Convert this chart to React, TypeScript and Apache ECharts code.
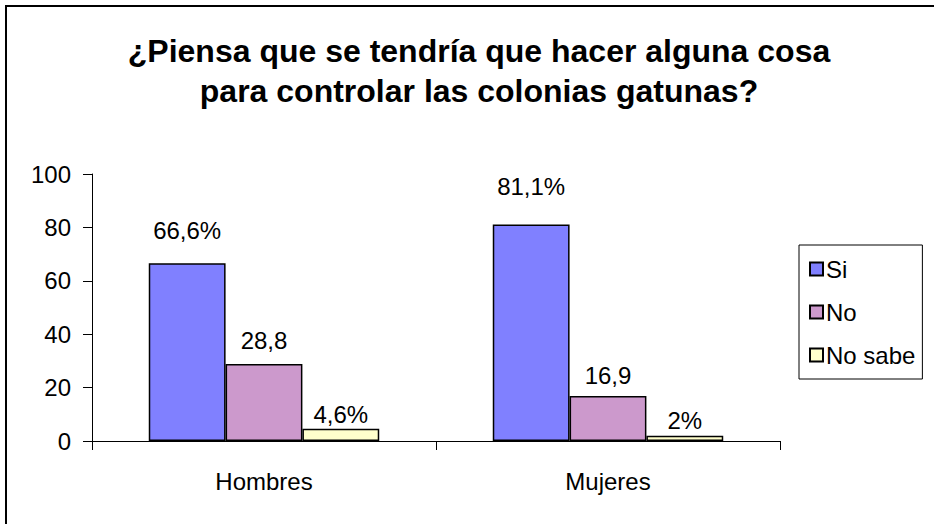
import React, { useEffect, useRef } from "react";
import * as echarts from "echarts";

const categories = ["Hombres", "Mujeres"];
const seriesNames = ["Si", "No", "No sabe"];
const siValues = [66.6, 81.1];
const noValues = [28.8, 16.9];
const noSabeValues = [4.6, 2];
const siLabels = ["66,6%", "81,1%"];
const noLabels = ["28,8", "16,9"];
const noSabeLabels = ["4,6%", "2%"];
const yTicks = [0, 20, 40, 60, 80, 100];
const titleLines = ["¿Piensa que se tendría que hacer alguna cosa", "para controlar las colonias gatunas?"];

const FONT = "'Liberation Sans', Arial, sans-serif";

export default function App() {
  const ref = useRef<HTMLDivElement>(null);
  useEffect(() => {
    if (!ref.current) return;
    const chart = echarts.init(ref.current, undefined, { renderer: "svg" });
    const colors = ["#8080FF", "#CC99CC", "#FFFFCC"];
    const labelDist = [
      [21, 26],
      [12, 8],
      [2, 3],
    ];
    const values = [siValues, noValues, noSabeValues];
    const labels = [siLabels, noLabels, noSabeLabels];
    chart.setOption({
      animation: false,
      backgroundColor: "#ffffff",
      textStyle: { fontFamily: FONT },
      title: {
        text: titleLines.join("\n"),
        left: 474,
        top: 26,
        textAlign: "center",
        textStyle: {
          fontFamily: FONT,
          fontSize: 32,
          fontWeight: "bold",
          color: "#000",
          lineHeight: 40,
        },
      },
      graphic: [
        {
          type: "polyline",
          shape: { points: [[6, 700], [6, 6], [1200, 6]] },
          style: { fill: "none", stroke: "#000", lineWidth: 2 },
          silent: true,
          z: 100,
        },
      ],
      legend: {
        orient: "vertical",
        left: 799,
        top: 245,
        padding: [12, 7, 12, 10],
        itemGap: 19,
        itemWidth: 13,
        itemHeight: 13,
        icon: "rect",
        borderColor: "#000",
        borderWidth: 1,
        textStyle: { fontFamily: FONT, fontSize: 24, color: "#000", padding: [0, 0, 0, -2] },
        data: seriesNames,
      },
      grid: { left: 92, right: 154, top: 174, bottom: 83, containLabel: false },
      xAxis: {
        type: "category",
        data: categories,
        axisLine: { lineStyle: { color: "#000", width: 1 } },
        axisTick: { show: true, length: 9, lineStyle: { color: "#000" } },
        axisLabel: { fontFamily: FONT, fontSize: 24, color: "#000", margin: 28 },
      },
      yAxis: {
        type: "value",
        min: yTicks[0],
        max: yTicks[yTicks.length - 1],
        interval: 20,
        splitLine: { show: false },
        axisLine: { show: true, lineStyle: { color: "#000", width: 1 } },
        axisTick: { show: true, length: 9, lineStyle: { color: "#000" } },
        axisLabel: { fontFamily: FONT, fontSize: 24, color: "#000", margin: 21 },
      },
      series: seriesNames.map((name, si) => ({
        name,
        type: "bar",
        barGap: "0%",
        barCategoryGap: "33%",
        itemStyle: { color: colors[si], borderColor: "#000", borderWidth: 1.5 },
        data: values[si].map((v, ci) => ({
          value: v,
          label: {
            show: true,
            position: "top",
            distance: labelDist[si][ci],
            formatter: labels[si][ci],
            fontFamily: FONT,
            fontSize: 24,
            color: "#000",
          },
        })),
      })),
    });
    return () => chart.dispose();
  }, []);
  return (
    <div
      ref={ref}
      style={{ position: "fixed", left: 0, top: 0, width: 934, height: 524 }}
    />
  );
}
